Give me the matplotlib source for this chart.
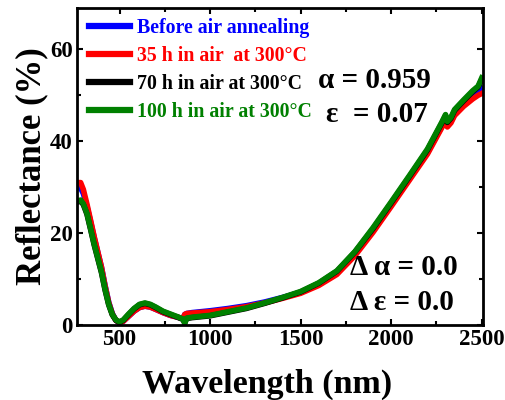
import numpy as np
import matplotlib.pyplot as plt
from matplotlib.ticker import MultipleLocator

# Reflectance spectra (%) after air annealing at 300 C
wavelength = [270, 285, 300, 320, 340, 360, 380, 400, 420, 440, 460, 480, 500, 520,
              550, 580, 610, 640, 670, 700, 740, 780, 820, 850, 860, 870, 900, 1000,
              1100, 1200, 1300, 1400, 1500, 1600, 1700, 1800, 1900, 2000, 2100, 2200,
              2280, 2300, 2310, 2330, 2350, 2400, 2450, 2480, 2500]

r_before = [30.0, 29.8, 28.6, 25.8, 22.5, 19.0, 15.8, 12.6, 8.6, 5.0, 2.5, 1.0, 0.5, 0.8,
            1.9, 3.0, 3.8, 4.1, 3.9, 3.4, 2.7, 2.1, 1.7, 1.4, 2.3, 2.5, 2.7, 3.1,
            3.6, 4.2, 5.0, 6.0, 7.1, 8.8, 11.3, 15.4, 20.5, 26.1, 31.8, 37.5,
            43.3, 44.8, 43.4, 44.3, 45.9, 48.0, 49.6, 50.5, 51.5]

r_35h = [31.0, 31.0, 29.5, 26.3, 22.8, 19.2, 15.9, 12.6, 8.5, 4.9, 2.4, 1.0, 0.5, 0.8,
         1.9, 3.0, 3.8, 4.1, 3.9, 3.4, 2.7, 2.1, 1.7, 1.4, 2.3, 2.5, 2.6, 2.9,
         3.4, 4.0, 4.8, 5.8, 6.9, 8.6, 11.0, 15.1, 20.2, 25.8, 31.5, 37.2,
         43.0, 44.5, 43.1, 44.0, 45.6, 47.6, 49.2, 50.0, 50.4]

r_70h = [26.8, 27.0, 26.2, 24.1, 20.8, 17.4, 14.4, 11.4, 7.6, 4.4, 2.2, 1.0, 0.6, 1.0,
         2.3, 3.5, 4.4, 4.7, 4.4, 3.8, 2.9, 2.3, 1.7, 1.2, 0.4, 1.4, 1.6, 2.0,
         2.8, 3.6, 4.7, 5.9, 7.2, 9.1, 11.7, 15.9, 21.0, 26.6, 32.3, 38.1,
         44.0, 45.6, 44.1, 45.0, 46.7, 48.8, 50.8, 51.8, 53.5]

r_100h = [27.0, 27.2, 26.4, 24.3, 21.0, 17.6, 14.6, 11.6, 7.8, 4.5, 2.3, 1.1, 0.7, 1.1,
          2.4, 3.6, 4.5, 4.8, 4.5, 3.9, 3.0, 2.4, 1.8, 1.3, 0.4, 1.5, 1.7, 2.1,
          2.9, 3.7, 4.8, 6.0, 7.3, 9.2, 11.8, 16.0, 21.2, 26.8, 32.5, 38.3,
          44.2, 45.8, 44.3, 45.2, 46.9, 49.0, 51.0, 52.0, 53.8]

labels = ['Before air annealing', '35 h in air  at 300\u00b0C',
          '70 h in air at 300\u00b0C', '100 h in air at 300\u00b0C']
colors = ['#0000ff', '#ff0000', '#000000', '#008000']

plt.rcParams['font.family'] = ['Liberation Serif', 'DejaVu Serif']
plt.rcParams['font.weight'] = 'bold'

fig = plt.figure(figsize=(5.05, 4.0), dpi=100)
ax = fig.add_axes([0.1525, 0.1875, 0.804, 0.7925])

for vals, lab, col in zip([r_before, r_35h, r_70h, r_100h], labels, colors):
    ax.plot(wavelength, vals, color=col, lw=4, label=lab)

ax.set_xlim(265, 2507)
ax.set_ylim(0, 69)
ax.xaxis.set_major_locator(MultipleLocator(500))
ax.xaxis.set_minor_locator(MultipleLocator(250))
ax.yaxis.set_major_locator(MultipleLocator(20))
ax.yaxis.set_minor_locator(MultipleLocator(10))
ax.tick_params(which='both', direction='in', top=True, right=True, width=1.5)
ax.tick_params(which='major', length=4, labelsize=16.5, pad=3)
ax.tick_params(which='minor', length=3)
for sp in ax.spines.values():
    sp.set_linewidth(2)

ax.set_xlabel('Wavelength (nm)', fontsize=24.5, fontweight='bold')
ax.xaxis.set_label_coords(0.468, -0.137)
ax.set_ylabel('Reflectance (%)', fontsize=25, fontweight='bold', labelpad=1)

leg = ax.legend(loc='upper left', bbox_to_anchor=(0.03, 0.968), frameon=False,
                fontsize=14.3, handlelength=2.05, handletextpad=0.35,
                labelspacing=0.4, borderaxespad=0, borderpad=0,
                labelcolor=colors)
for h in leg.get_lines():
    h.set_linewidth(4.5)

ax.text(0.593, 0.77, '\u03b1 = 0.959', transform=ax.transAxes, fontsize=21,
        fontweight='bold', ha='left', va='center')
ax.text(0.613, 0.665, '\u03b5  = 0.07', transform=ax.transAxes, fontsize=21,
        fontweight='bold', ha='left', va='center')
ax.text(0.672, 0.18, '\u0394 \u03b1 = 0.0', transform=ax.transAxes, fontsize=21,
        fontweight='bold', ha='left', va='center')
ax.text(0.672, 0.07, '\u0394 \u03b5 = 0.0', transform=ax.transAxes, fontsize=21,
        fontweight='bold', ha='left', va='center')

fig.savefig('out.png', dpi=100)
